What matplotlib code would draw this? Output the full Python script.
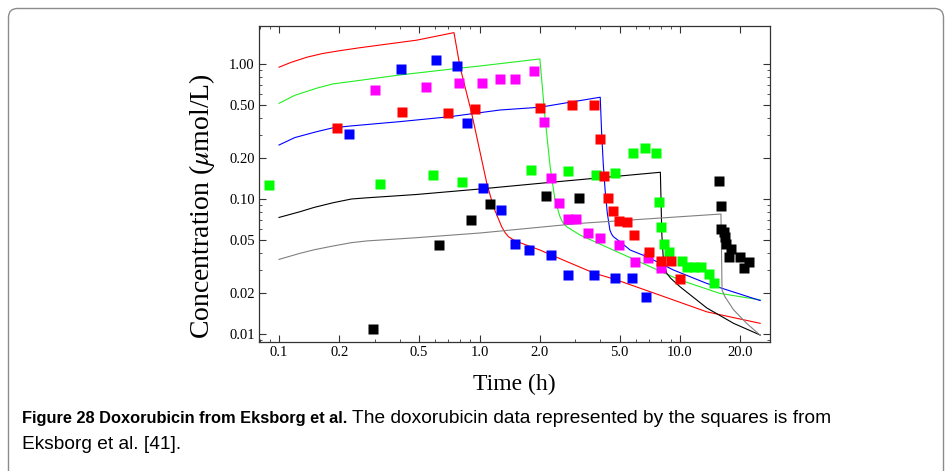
import numpy as np
import matplotlib
matplotlib.use("Agg")
import matplotlib.pyplot as plt
from matplotlib.patches import FancyBboxPatch
from matplotlib.transforms import IdentityTransform
from matplotlib.ticker import FixedLocator, FixedFormatter, NullFormatter

plt.rcParams['font.family'] = ['Liberation Serif', 'DejaVu Serif']
plt.rcParams['mathtext.fontset'] = 'stix'

# ==============================================================================
# DATA
# ==============================================================================
# measured squares
blue_t = [0.224, 0.406, 0.607, 0.774, 0.869, 1.04, 1.28, 1.51, 1.77, 2.28, 2.75, 3.74, 4.74, 5.74, 6.74]
blue_c = [0.305, 0.918, 1.07, 0.972, 0.367, 0.121, 0.083, 0.0464, 0.0419, 0.0385, 0.0275, 0.0275, 0.0259, 0.0259, 0.0189]

red_t = [0.195, 0.412, 0.70, 0.95, 2.0, 2.90, 3.74, 4.0, 4.16, 4.39, 4.64, 4.98, 5.46, 5.92, 7.03, 8.01, 9.06, 10.0]
red_c = [0.337, 0.443, 0.434, 0.462, 0.475, 0.50, 0.50, 0.280, 0.149, 0.102, 0.082, 0.069, 0.0675, 0.054, 0.0405, 0.0347, 0.0349, 0.0255]

magenta_t = [0.302, 0.543, 0.787, 1.026, 1.27, 1.51, 1.86, 2.10, 2.26, 2.50, 2.76, 3.03, 3.49, 4.01, 4.98, 5.97, 6.95, 8.02]
magenta_c = [0.645, 0.679, 0.723, 0.723, 0.778, 0.778, 0.892, 0.374, 0.144, 0.094, 0.0707, 0.0707, 0.0563, 0.0517, 0.0459, 0.0343, 0.0364, 0.0307]

green_t = [0.0895, 0.32, 0.589, 0.821, 1.81, 2.77, 3.83, 4.75, 5.81, 6.71, 7.59, 7.89, 8.07, 8.30, 8.79,
           10.28, 10.85, 11.75, 12.74, 14.0, 14.8]
green_c = [0.128, 0.130, 0.151, 0.134, 0.164, 0.161, 0.151, 0.157, 0.219, 0.24, 0.219, 0.095, 0.0624, 0.0462, 0.0407,
           0.0347, 0.0312, 0.0315, 0.0315, 0.0278, 0.024]

black_t = [0.295, 0.631, 0.91, 1.13, 2.15, 3.15, 15.7, 16.07, 16.0, 16.6, 16.75, 16.95, 17.6, 18.0, 19.9, 20.9, 22.0]
black_c = [0.0109, 0.0459, 0.0703, 0.0923, 0.106, 0.102, 0.136, 0.0888, 0.0596, 0.057, 0.052, 0.0462, 0.037, 0.0424,
           0.0374, 0.0306, 0.0343]

# model curves (infusion over 0.75, 2, 4, 8 and 16 h)
red_line_t = [0.1, 0.115, 0.1375, 0.165, 0.201, 0.25, 0.307, 0.486, 0.746, 0.799, 0.914, 1.087, 1.173, 1.29, 1.34,
              1.394, 1.48, 1.59, 2.0, 2.28, 3.74, 4.74, 7.08, 13.6, 25.1]
red_line_c = [0.946, 1.028, 1.121, 1.195, 1.254, 1.315, 1.37, 1.50, 1.706, 0.955, 0.431, 0.131, 0.0877, 0.0623, 0.0565,
              0.0526, 0.0497, 0.0475, 0.0419, 0.0385, 0.0282, 0.0254, 0.0206, 0.0146, 0.012]

green_line_t = [0.1, 0.12, 0.154, 0.185, 0.226, 0.401, 0.713, 1.006, 2.0, 2.12, 2.25, 2.38, 2.52, 2.6, 2.72, 3.17,
                4.64, 6.82, 10.0, 15.8, 25.1]
green_line_c = [0.511, 0.586, 0.661, 0.711, 0.739, 0.829, 0.914, 0.966, 1.089, 0.407, 0.1735, 0.0983, 0.0739, 0.067,
                0.0623, 0.0541, 0.0419, 0.0324, 0.0251, 0.020, 0.0179]

blue_line_t = [0.1, 0.12, 0.154, 0.185, 0.226, 0.401, 0.713, 1.265, 2.0, 4.0, 4.06, 4.14, 4.23, 4.34, 4.47, 4.55,
               4.65, 5.02, 5.64, 6.82, 9.27, 13.6, 25.1]
blue_line_c = [0.251, 0.285, 0.315, 0.336, 0.347, 0.374, 0.407, 0.456, 0.478, 0.567, 0.324, 0.184, 0.1166, 0.0784,
               0.0589, 0.0552, 0.0526, 0.0483, 0.0419, 0.0374, 0.0298, 0.0237, 0.0177]

black_line_t = [0.1, 0.1273, 0.15, 0.1866, 0.23, 0.2737, 0.486, 1.006, 2.16, 7.98, 8.04, 8.11, 8.26, 8.58, 9.0,
                10.0, 13.6, 18.5, 25.1]
black_line_c = [0.073, 0.0805, 0.0867, 0.0939, 0.100, 0.102, 0.108, 0.1186, 0.132, 0.1577, 0.0983, 0.0557, 0.0353,
                0.0282, 0.0258, 0.0224, 0.0156, 0.012, 0.00983]

gray_line_t = [0.1, 0.1273, 0.15, 0.1866, 0.23, 0.2737, 0.486, 1.006, 3.17, 16.0, 16.1, 16.2, 16.75, 18.5, 21.5, 25.1]
gray_line_c = [0.0357, 0.0396, 0.0421, 0.0449, 0.0475, 0.0489, 0.0517, 0.056, 0.066, 0.0774, 0.0419, 0.0212, 0.0189,
               0.0151, 0.012, 0.0098]

x_ticks = [0.1, 0.2, 0.5, 1.0, 2.0, 5.0, 10.0, 20.0]
x_tick_labels = ['0.1', '0.2', '0.5', '1.0', '2.0', '5.0', '10.0', '20.0']
y_ticks = [0.01, 0.02, 0.05, 0.10, 0.20, 0.50, 1.00]
y_tick_labels = ['0.01', '0.02', '0.05', '0.10', '0.20', '0.50', '1.00']

caption_bold = "Figure 28 Doxorubicin from Eksborg et al."
caption_rest = " The doxorubicin data represented by the squares is from"
caption_line2 = "Eksborg et al. [41]."

# ==============================================================================
# PLOTTING
# ==============================================================================
fig = plt.figure(figsize=(9.52, 4.71), dpi=100)
ax = fig.add_axes([259 / 952, 1 - 342 / 471, (770 - 259) / 952, (342 - 26) / 471])

lw = 0.8
ax.plot(red_line_t, red_line_c, color='#ff0000', lw=lw, zorder=2)
ax.plot(green_line_t, green_line_c, color='#22ee22', lw=lw, zorder=2)
ax.plot(blue_line_t, blue_line_c, color='#0000ff', lw=lw, zorder=2)
ax.plot(black_line_t, black_line_c, color='black', lw=lw, zorder=2)
ax.plot(gray_line_t, gray_line_c, color='#808080', lw=lw, zorder=2)

ms = 7.0
for t, c, col in [(green_t, green_c, '#00ff00'), (magenta_t, magenta_c, '#ff00ff'),
                  (red_t, red_c, '#ff0000'), (blue_t, blue_c, '#0000ff'), (black_t, black_c, 'black')]:
    ax.plot(t, c, ls='none', marker='s', ms=ms, mfc=col, mec='none', zorder=3)

ax.set_xscale('log')
ax.set_yscale('log')
ax.set_xlim(0.0795, 28.1)
ax.set_ylim(0.00873, 1.91)

ax.xaxis.set_major_locator(FixedLocator(x_ticks))
ax.xaxis.set_major_formatter(FixedFormatter(x_tick_labels))
ax.yaxis.set_major_locator(FixedLocator(y_ticks))
ax.yaxis.set_major_formatter(FixedFormatter(y_tick_labels))
ax.xaxis.set_minor_formatter(NullFormatter())
ax.yaxis.set_minor_formatter(NullFormatter())

ax.tick_params(which='both', direction='in', top=True, right=True, labelsize=10.5, color='#333333')
ax.tick_params(which='major', length=5, width=0.8, pad=3)
ax.tick_params(which='minor', length=2.5, width=0.6)
for s in ax.spines.values():
    s.set_color('#333333')
    s.set_linewidth(0.9)

ax.set_xlabel('Time (h)', fontsize=17, labelpad=10.5)
ax.set_ylabel(r'Concentration ($\mu$mol/L)', fontsize=20)
ax.yaxis.set_label_coords(-0.082, 0.43)

# caption box and text
box = FancyBboxPatch((8.5, -30), 935, 471 - 8.5 + 30, boxstyle='round,pad=0,rounding_size=9',
                     transform=IdentityTransform(), fill=False, ec='#8c8c8c', lw=1.0)
fig.add_artist(box)

cap_font = ['Liberation Sans', 'DejaVu Sans']
t1 = fig.text(22 / 952, 1 - 423 / 471, caption_bold, family=cap_font, fontweight='bold', fontsize=11.8,
              va='baseline', ha='left')
fig.canvas.draw()
bb = t1.get_window_extent()
fig.text(bb.x1 / 952, 1 - 423 / 471, caption_rest, family=cap_font, fontsize=13.8, va='baseline', ha='left')
fig.text(22 / 952, 1 - 449 / 471, caption_line2, family=cap_font, fontsize=13.8, va='baseline', ha='left')

fig.savefig('out.png', dpi=100)
